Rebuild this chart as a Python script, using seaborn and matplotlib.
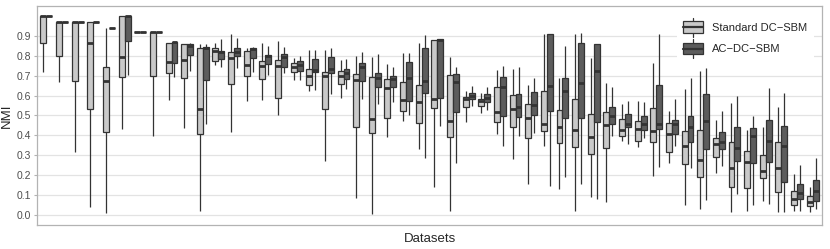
import numpy as np
import pandas as pd
import matplotlib
matplotlib.use('Agg')
import matplotlib.pyplot as plt
from matplotlib.legend_handler import HandlerPatch
from matplotlib.patches import Rectangle
from matplotlib.lines import Line2D
import seaborn as sns

# Five-number summaries (min, q1, median, q3, max)
datasets = [f"D{i}" for i in range(1, 51)]
methods = ['Standard DC\u2212SBM', 'AC\u2212DC\u2212SBM']
colors = ['#c9c9c9', '#5c5c5c']

std_lo = [0.72, 0.667, 0.318, 0.039, 0.008, 0.432, 0.921, 0.397, 0.578, 0.436,
          0.02, 0.754, 0.415, 0.574, 0.576, 0.503, 0.678, 0.623, 0.271, 0.586,
          0.084, 0.005, 0.394, 0.474, 0.33, 0.139, 0.022, 0.469, 0.511, 0.405,
          0.281, 0.156, 0.348, 0.131, 0.022, 0.092, 0.067, 0.372, 0.343, 0.196,
          0.263, 0.05, 0.029, 0.209, 0.013, 0.022, 0.072, 0.013, 0.022, 0.013]
std_q1 = [0.863, 0.80, 0.675, 0.531, 0.419, 0.692, 0.921, 0.698, 0.712, 0.69,
          0.405, 0.776, 0.657, 0.70, 0.683, 0.586, 0.717, 0.653, 0.531, 0.658,
          0.441, 0.413, 0.486, 0.524, 0.464, 0.536, 0.394, 0.541, 0.549, 0.466,
          0.441, 0.389, 0.424, 0.363, 0.34, 0.305, 0.335, 0.397, 0.373, 0.368,
          0.315, 0.255, 0.193, 0.29, 0.142, 0.134, 0.184, 0.114, 0.05, 0.045]
std_med = [1.0, 0.971, 0.971, 0.866, 0.675, 0.796, 0.921, 0.92, 0.77, 0.779,
           0.531, 0.826, 0.79, 0.754, 0.749, 0.749, 0.745, 0.698, 0.698, 0.698,
           0.678, 0.482, 0.637, 0.578, 0.569, 0.581, 0.474, 0.583, 0.573, 0.519,
           0.531, 0.489, 0.456, 0.444, 0.427, 0.394, 0.452, 0.427, 0.431, 0.422,
           0.405, 0.348, 0.276, 0.357, 0.238, 0.265, 0.221, 0.238, 0.08, 0.067]
std_q3 = [1.0, 0.971, 0.971, 0.97, 0.745, 1.0, 0.921, 0.92, 0.866, 0.859,
          0.841, 0.838, 0.817, 0.824, 0.774, 0.777, 0.762, 0.732, 0.717, 0.724,
          0.709, 0.695, 0.682, 0.667, 0.653, 0.879, 0.704, 0.594, 0.583, 0.642,
          0.603, 0.558, 0.625, 0.528, 0.583, 0.506, 0.516, 0.482, 0.474, 0.536,
          0.461, 0.424, 0.427, 0.389, 0.368, 0.322, 0.302, 0.368, 0.122, 0.095]
std_hi = [1.0, 0.971, 0.971, 0.97, 0.938, 1.0, 0.921, 0.92, 0.866, 0.86,
          0.858, 0.866, 0.908, 0.841, 0.866, 0.876, 0.787, 0.829, 0.829, 0.779,
          0.799, 0.796, 0.757, 0.816, 0.863, 0.879, 0.792, 0.625, 0.613, 0.729,
          0.732, 0.653, 0.908, 0.69, 0.908, 0.791, 0.665, 0.556, 0.573, 0.762,
          0.524, 0.632, 0.724, 0.477, 0.561, 0.427, 0.444, 0.541, 0.206, 0.142]

ac_lo = [1.0, 0.971, 0.971, 0.97, 0.94, 0.702, 0.921, 0.92, 0.692, 0.724,
         0.456, 0.742, 0.74, 0.72, 0.704, 0.715, 0.68, 0.628, 0.608, 0.632,
         0.583, 0.558, 0.569, 0.503, 0.285, 0.447, 0.263, 0.548, 0.53, 0.348,
         0.397, 0.413, 0.146, 0.189, 0.154, 0.079, 0.397, 0.357, 0.389, 0.243,
         0.348, 0.238, 0.075, 0.246, 0.106, 0.05, 0.055, 0.013, 0.02, 0.03]
ac_q1 = [1.0, 0.971, 0.971, 0.97, 0.94, 0.876, 0.921, 0.92, 0.762, 0.804,
         0.678, 0.782, 0.799, 0.787, 0.759, 0.745, 0.725, 0.717, 0.715, 0.682,
         0.675, 0.645, 0.645, 0.573, 0.615, 0.59, 0.516, 0.581, 0.568, 0.497,
         0.494, 0.503, 0.523, 0.486, 0.486, 0.466, 0.456, 0.441, 0.427, 0.431,
         0.405, 0.365, 0.33, 0.332, 0.271, 0.263, 0.265, 0.167, 0.079, 0.072]
ac_med = [1.0, 0.971, 0.971, 0.97, 0.94, 1.0, 0.921, 0.92, 0.868, 0.85,
          0.84, 0.82, 0.821, 0.832, 0.80, 0.796, 0.754, 0.729, 0.734, 0.712,
          0.745, 0.69, 0.682, 0.687, 0.675, 0.88, 0.67, 0.596, 0.586, 0.642,
          0.544, 0.553, 0.65, 0.625, 0.662, 0.724, 0.497, 0.457, 0.457, 0.457,
          0.457, 0.444, 0.474, 0.368, 0.338, 0.399, 0.373, 0.347, 0.109, 0.121]
ac_q3 = [1.0, 0.971, 0.971, 0.97, 0.94, 1.0, 0.921, 0.92, 0.868, 0.859,
         0.846, 0.826, 0.841, 0.841, 0.804, 0.809, 0.776, 0.782, 0.792, 0.734,
         0.762, 0.712, 0.698, 0.771, 0.838, 0.883, 0.707, 0.611, 0.606, 0.695,
         0.608, 0.62, 0.91, 0.69, 0.863, 0.858, 0.541, 0.506, 0.497, 0.653,
         0.477, 0.497, 0.606, 0.415, 0.444, 0.439, 0.477, 0.447, 0.156, 0.176]
ac_hi = [1.0, 0.971, 0.971, 0.97, 0.94, 1.0, 0.921, 0.92, 0.868, 0.866,
         0.858, 0.883, 0.888, 0.846, 0.851, 0.846, 0.80, 0.829, 0.838, 0.782,
         0.821, 0.807, 0.745, 0.816, 0.905, 0.883, 0.742, 0.65, 0.645, 0.749,
         0.745, 0.687, 0.91, 0.849, 0.916, 0.858, 0.645, 0.573, 0.568, 0.908,
         0.583, 0.69, 0.74, 0.524, 0.598, 0.497, 0.637, 0.611, 0.251, 0.285]

yticks = [0.0, 0.1, 0.2, 0.3, 0.4, 0.5, 0.6, 0.7, 0.8, 0.9]

# long table: each box is drawn from its five summary values
rows = []
for i, d in enumerate(datasets):
    for m, stats in zip(methods, [(std_lo, std_q1, std_med, std_q3, std_hi),
                                  (ac_lo, ac_q1, ac_med, ac_q3, ac_hi)]):
        for s in stats:
            rows.append({'dataset': d, 'method': m, 'NMI': s[i]})
df = pd.DataFrame(rows)


# legend key that looks like a small boxplot (ggplot style)
class BoxKey(HandlerPatch):
    def create_artists(self, legend, orig_handle, xdescent, ydescent,
                       width, height, fontsize, trans):
        fc = orig_handle.get_facecolor()
        cx = -xdescent + width / 2
        y0 = -ydescent
        whisk = Line2D([cx, cx], [y0 - 0.3 * height, y0 + 1.3 * height],
                       color='#333333', lw=0.9, transform=trans)
        box = Rectangle((-xdescent, y0), width, height, facecolor=fc,
                        edgecolor='#333333', lw=0.9, transform=trans)
        med = Line2D([-xdescent, -xdescent + width], [y0 + height / 2] * 2,
                     color='#333333', lw=1.6, transform=trans)
        return [whisk, box, med]


sns.set_style('white')
plt.rcParams['font.family'] = ['Liberation Sans', 'DejaVu Sans']

fig = plt.figure(figsize=(8.3, 2.49), dpi=100)
ax = fig.add_axes([0.0446, 0.0964, 0.9458, 0.8796])

sns.boxplot(data=df, x='dataset', y='NMI', hue='method', order=datasets,
            hue_order=methods, palette=colors,
            whis=(0, 100), showcaps=False, width=0.76, gap=0,
            linecolor='#333333', linewidth=0.9,
            medianprops={'linewidth': 2.0, 'color': '#333333'},
            ax=ax, zorder=3, legend=False)

ax.set_xlim(-0.6, len(datasets) - 0.4)
ax.set_ylim(-0.05, 1.05)
ax.set_yticks(yticks)
ax.set_yticklabels([f"{t:.1f}" for t in yticks], fontsize=7.5, color='#4d4d4d')
ax.set_xticks([])
ax.yaxis.grid(True, color='#e3e3e3', linewidth=0.9, zorder=0)
ax.set_axisbelow(True)
ax.tick_params(axis='y', length=2, color='#b3b3b3', pad=2, left=True)
for sp in ax.spines.values():
    sp.set_color('#b3b3b3')
    sp.set_linewidth(0.9)

ax.set_xlabel('Datasets', fontsize=9.5, labelpad=6)
ax.set_ylabel('NMI', fontsize=9.5, labelpad=2)
ax.yaxis.set_label_coords(-0.031, 0.5)

handles = [Rectangle((0, 0), 1, 1, facecolor=c) for c in colors]
leg = ax.legend(handles, methods, loc='upper right',
                bbox_to_anchor=(0.997, 0.985), fontsize=8,
                frameon=True, facecolor='white', edgecolor='none',
                framealpha=1, handlelength=1.8, handleheight=1.25,
                labelspacing=0.85, borderpad=0.6, handletextpad=0.8,
                handler_map={Rectangle: BoxKey()})
leg.set_zorder(5)

fig.savefig('out.png', dpi=100)
